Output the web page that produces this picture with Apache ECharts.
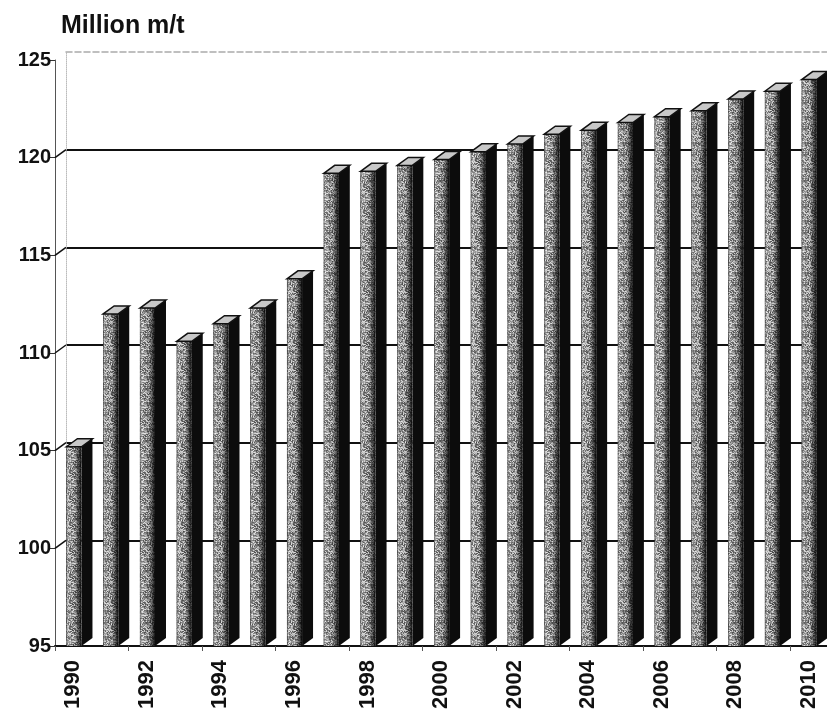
<!DOCTYPE html>
<html>
<head>
<meta charset="utf-8">
<script src="https://cdn.jsdelivr.net/npm/echarts@6/dist/echarts.min.js"></script>
<style>
  html, body { margin: 0; padding: 0; background: #fff; }
  #chart { width: 827px; height: 719px; }
</style>
</head>
<body>
<div id="chart"></div>
<script>
// Annual output, million metric tonnes
const years = ['1990','1991','1992','1993','1994','1995','1996','1997','1998','1999','2000',
               '2001','2002','2003','2004','2005','2006','2007','2008','2009','2010'];
const output = [105.2, 112.0, 112.3, 110.6, 111.5, 112.3, 113.8, 119.2, 119.3, 119.6, 119.9,
                120.3, 120.7, 121.2, 121.4, 121.8, 122.1, 122.4, 123.0, 123.4, 124.0];
const yMin = 95, yMax = 125, yStep = 5;
const wallTicks = [100, 105, 110, 115, 120];

// Speckled fill for the column faces (deterministic hash noise)
const tex = document.createElement('canvas');
tex.width = 14; tex.height = 26;
(function () {
  const c = tex.getContext('2d');
  for (let y = 0; y < tex.height; y++) {
    for (let x = 0; x < tex.width; x++) {
      const h = Math.sin(x * 12.9898 + y * 78.233) * 43758.5453;
      const f = h - Math.floor(h);
      const g = Math.round(70 + f * 170);
      c.fillStyle = 'rgb(' + g + ',' + g + ',' + g + ')';
      c.fillRect(x, y, 1, 1);
    }
  }
})();

const DEPTH_X = 11, DEPTH_Y = 8;

function renderColumn(params, api) {
  const i = api.value(0), v = api.value(1);
  const top = api.coord([i, v]);
  const base = api.coord([i, yMin]);
  const bw = api.size([1, 0])[0];
  const cx = top[0];
  const fl = cx - 0.19 * bw, fr = cx + 0.22 * bw;
  const t = top[1], b = base[1];
  return {
    type: 'group',
    children: [
      { type: 'polygon',
        shape: { points: [[fr, t], [fr + DEPTH_X, t - DEPTH_Y], [fr + DEPTH_X, b - DEPTH_Y], [fr, b]] },
        style: { fill: '#0c0c0c' } },
      { type: 'rect',
        shape: { x: fl, y: t, width: fr - fl, height: b - t },
        style: { fill: { image: tex, repeat: 'repeat' } } },
      { type: 'rect',
        shape: { x: fl, y: t, width: fr - fl, height: b - t },
        style: { fill: new echarts.graphic.LinearGradient(0, 0, 1, 0, [
          { offset: 0, color: 'rgba(0,0,0,0.75)' },
          { offset: 0.12, color: 'rgba(255,255,255,0.15)' },
          { offset: 0.55, color: 'rgba(0,0,0,0.05)' },
          { offset: 0.85, color: 'rgba(0,0,0,0.6)' },
          { offset: 1, color: 'rgba(0,0,0,0.92)' }
        ]) } },
      { type: 'polygon',
        shape: { points: [[fl, t], [fl + DEPTH_X, t - DEPTH_Y], [fr + DEPTH_X, t - DEPTH_Y], [fr, t]] },
        style: { fill: '#c8c8c8', stroke: '#111', lineWidth: 1.5 } }
    ]
  };
}

// Short diagonal links from the front axis ticks to the back-wall gridlines
function renderLink(params, api) {
  const v = api.value(1);
  const p = api.coord([0, v]);
  const bw = api.size([1, 0])[0];
  const x0 = p[0] - bw / 2;
  return {
    type: 'line',
    shape: { x1: x0, y1: p[1], x2: x0 + DEPTH_X, y2: p[1] - DEPTH_Y },
    style: { stroke: '#111', lineWidth: 1.5 }
  };
}

const font = 'Liberation Sans';
const chart = echarts.init(document.getElementById('chart'), null, { renderer: 'canvas' });
chart.setOption({
  animation: false,
  backgroundColor: '#fff',
  title: {
    text: 'Million m/t',
    left: 56, top: 9,
    textStyle: { fontFamily: font, fontSize: 25, fontWeight: 'bold', color: '#111' }
  },
  grid: [
    { left: 55, top: 60, width: 773, bottom: 73 },
    { left: 66, top: 52, right: 0, bottom: 81 }
  ],
  xAxis: [
    {
      gridIndex: 0, type: 'category', data: years,
      axisLine: { lineStyle: { color: '#111', width: 2 } },
      axisTick: { show: true, length: 5, lineStyle: { color: '#555' } },
      axisLabel: {
        interval: 1, rotate: 90, margin: 14,
        fontFamily: font, fontSize: 22, fontWeight: 'bold', color: '#111'
      },
      splitLine: { show: false }
    },
    {
      gridIndex: 1, type: 'value', position: 'top', min: 0, max: 1,
      axisLine: { show: true, lineStyle: { color: '#aaa', type: 'dashed', width: 1.5 } },
      axisTick: { show: false }, axisLabel: { show: false }, splitLine: { show: false }
    }
  ],
  yAxis: [
    {
      gridIndex: 0, type: 'value', min: yMin, max: yMax, interval: yStep,
      axisLine: { show: true, lineStyle: { color: '#555', width: 1 } },
      axisTick: { show: true, length: 5, lineStyle: { color: '#333' } },
      axisLabel: { margin: 4, fontFamily: font, fontSize: 20, fontWeight: 'bold', color: '#111' },
      splitLine: { show: false }
    },
    {
      gridIndex: 1, type: 'value', min: yMin, max: yMax, interval: yStep,
      axisLine: { show: true, lineStyle: { color: '#bbb', type: 'dotted', width: 1 } },
      axisTick: { show: false }, axisLabel: { show: false },
      splitLine: {
        show: true,
        lineStyle: { color: ['transparent', '#111', '#111', '#111', '#111', '#111', 'transparent'], width: 2 }
      }
    }
  ],
  series: [
    {
      type: 'custom', xAxisIndex: 0, yAxisIndex: 0,
      renderItem: renderLink,
      data: wallTicks.map(v => [0, v]),
      silent: true, z: 1
    },
    {
      type: 'custom', xAxisIndex: 0, yAxisIndex: 0,
      renderItem: renderColumn,
      data: output.map((v, i) => [i, v]),
      clip: false, z: 5
    }
  ]
});
</script>
</body>
</html>
